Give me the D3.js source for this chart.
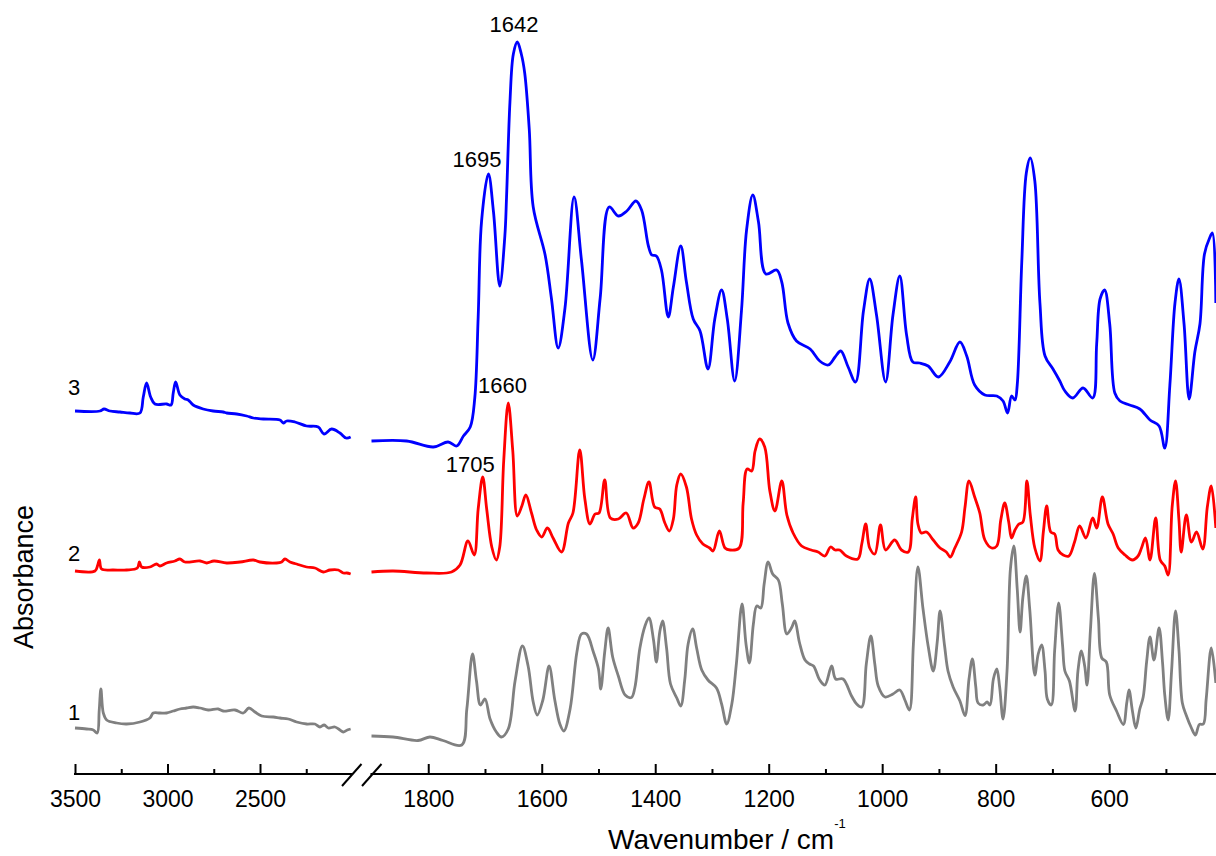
<!DOCTYPE html>
<html><head><meta charset="utf-8">
<script src="https://cdn.jsdelivr.net/npm/d3@7"></script>
<style>
html,body{margin:0;padding:0;background:#fff;}
svg{display:block;}
text{font-family:"Liberation Sans",Arial,Helvetica,sans-serif;fill:#000;}
</style></head><body>
<svg id="chart" width="1216" height="856"></svg>
<script>
// ---------- DATA (wavenumber cm-1, absorbance a.u. incl. stacking offset) ----------
const spec3Left = [[3500,36.3],[3365,36.3],[3343,36.5],[3311,36.3],[3257,36.2],[3203,36.1],[3149,36.1],[3131,37.7],[3113,39.1],[3091,37.7],[3068,37.0],[3005,37.0],[2981,36.9],[2969,38.1],[2956,39.2],[2933,37.9],[2906,37.5],[2888,37.4],[2861,36.9],[2807,36.5],[2753,36.3],[2699,36.2],[2680,36.1],[2626,36.0],[2572,35.8],[2536,35.6],[2482,35.5],[2392,35.4],[2374,35.1],[2356,35.3],[2311,35.2],[2248,34.8],[2185,34.7],[2154,34.0],[2113,34.5],[2068,34.1],[2035,33.6],[2010,33.7]];
const spec3Right = [[1900,33.3],[1838,33.3],[1791,32.7],[1765,33.2],[1750,32.8],[1738,33.8],[1726,34.7],[1718,37.6],[1712,45.7],[1706,55.3],[1694,60.0],[1685,56.2],[1674,48.8],[1665,53.8],[1662,57.7],[1656,67.2],[1650,72.0],[1643,73.2],[1636,72.0],[1630,70.1],[1622,64.5],[1615,56.7],[1594,51.9],[1583,47.6],[1571,42.6],[1559,46.6],[1543,57.7],[1530,51.4],[1510,41.4],[1497,47.6],[1481,56.7],[1465,55.8],[1450,56.3],[1434,57.3],[1424,56.4],[1412,52.8],[1406,51.9],[1398,51.8],[1389,50.4],[1377,45.7],[1368,48.7],[1355,52.8],[1345,49.2],[1333,45.5],[1321,44.3],[1307,40.5],[1295,45.5],[1283,48.4],[1273,45.5],[1260,39.3],[1248,46.3],[1239,54.4],[1228,57.9],[1218,55.2],[1205,50.0],[1186,50.4],[1177,49.2],[1166,45.1],[1151,43.3],[1127,42.5],[1110,41.3],[1095,40.9],[1083,41.7],[1073,42.3],[1060,40.7],[1047,39.2],[1033,46.3],[1022,49.5],[1010,45.9],[994,39.2],[981,45.9],[969,49.8],[957,43.9],[946,41.2],[934,41.1],[919,40.8],[901,39.7],[881,41.2],[863,43.2],[851,41.8],[837,38.9],[819,37.9],[798,37.8],[787,37.3],[779,36.1],[772,37.8],[766,37.4],[762,38.9],[754,51.2],[746,60.1],[739,61.6],[731,59.3],[722,47.1],[713,41.8],[699,40.5],[687,39.3],[678,38.3],[664,37.6],[646,38.6],[629,37.6],[622,43.0],[616,47.5],[608,48.4],[599,45.0],[590,38.1],[581,37.3],[564,36.9],[546,36.5],[528,35.4],[512,34.8],[502,32.6],[493,38.9],[484,47.1],[477,49.5],[468,45.0],[459,37.5],[449,42.2],[440,45.0],[432,52.0],[423,53.6],[418,54.1],[412,47.1]];

const spec2Left = [[3500,20.3],[3392,20.3],[3377,20.9],[3368,21.4],[3356,20.5],[3293,20.4],[3221,20.4],[3163,20.6],[3152,21.2],[3140,20.7],[3095,20.7],[3059,21.0],[3041,20.8],[3005,21.1],[2960,21.3],[2933,21.5],[2906,21.2],[2824,21.3],[2788,21.1],[2749,21.3],[2680,21.1],[2608,21.2],[2536,21.4],[2500,21.2],[2410,21.1],[2383,21.2],[2365,21.5],[2338,21.2],[2302,21.0],[2248,20.7],[2203,20.6],[2158,20.2],[2122,20.4],[2077,20.4],[2050,20.1],[2031,20.1],[2010,20.0]];
const spec2Right = [[1900,20.2],[1862,20.3],[1803,20.1],[1759,20.2],[1744,20.9],[1730,23.3],[1719,21.9],[1712,26.5],[1704,29.7],[1697,26.5],[1688,22.7],[1680,21.4],[1674,22.7],[1667,31.3],[1659,37.1],[1651,32.3],[1643,25.8],[1635,26.8],[1628,27.9],[1618,26.1],[1609,24.4],[1600,23.7],[1590,24.6],[1580,23.6],[1565,22.2],[1553,25.1],[1545,26.1],[1533,32.4],[1524,27.5],[1515,25.0],[1506,26.0],[1499,26.1],[1489,29.4],[1479,25.6],[1465,25.5],[1451,26.1],[1439,24.6],[1430,25.1],[1420,27.5],[1411,29.2],[1401,26.7],[1392,26.5],[1383,25.1],[1375,24.3],[1368,25.5],[1362,28.9],[1355,30.0],[1345,28.7],[1336,25.5],[1327,23.9],[1316,23.0],[1304,22.6],[1298,22.3],[1287,24.3],[1277,22.6],[1268,22.4],[1252,22.6],[1245,27.1],[1238,30.5],[1230,30.3],[1224,32.3],[1216,33.5],[1207,32.7],[1198,28.3],[1189,26.3],[1177,29.3],[1168,25.9],[1157,24.1],[1142,22.8],[1125,22.4],[1113,22.2],[1101,21.8],[1091,22.7],[1083,22.4],[1075,22.4],[1063,21.8],[1043,21.5],[1036,23.0],[1029,25.0],[1022,22.6],[1013,22.0],[1003,24.9],[994,22.4],[978,23.4],[966,22.4],[954,22.2],[947,25.5],[941,27.7],[937,25.0],[931,24.1],[922,24.2],[910,23.4],[898,22.6],[887,22.2],[880,21.7],[872,22.6],[860,24.2],[854,26.7],[847,29.3],[837,27.7],[828,26.1],[819,23.4],[807,22.6],[798,22.8],[791,25.4],[784,27.1],[777,25.2],[772,23.6],[766,24.4],[759,25.0],[752,25.2],[745,29.3],[739,25.9],[731,22.6],[722,21.3],[716,24.2],[710,26.8],[703,24.2],[696,24.0],[690,22.4],[681,21.9],[671,21.8],[661,23.2],[652,24.8],[641,23.6],[629,25.6],[622,24.6],[612,27.7],[602,25.0],[593,24.0],[584,22.6],[572,21.9],[559,21.4],[549,21.8],[543,22.6],[536,23.6],[528,21.4],[518,25.6],[510,21.4],[502,20.8],[496,19.9],[489,26.7],[483,29.3],[477,25.4],[473,22.2],[464,25.9],[455,23.2],[446,24.2],[435,22.5],[427,26.7],[420,28.8],[412,24.6]];

const spec1Left = [[3500,4.6],[3437,4.5],[3401,4.4],[3380,4.1],[3369,6.4],[3360,8.5],[3347,6.1],[3329,5.4],[3275,5.1],[3221,5.0],[3149,5.2],[3095,5.6],[3077,6.1],[3041,6.1],[3005,6.1],[2969,6.3],[2933,6.5],[2897,6.6],[2861,6.7],[2824,6.6],[2780,6.4],[2726,6.5],[2699,6.3],[2635,6.4],[2590,6.1],[2560,6.6],[2527,6.2],[2491,5.8],[2428,5.7],[2392,5.6],[2347,5.5],[2302,5.2],[2248,5.0],[2203,5.0],[2176,4.7],[2153,4.9],[2131,4.6],[2095,4.7],[2068,4.4],[2050,4.2],[2028,4.4],[2010,4.5]];
const spec1Right = [[1900,3.8],[1862,3.7],[1818,3.35],[1797,3.7],[1774,3.35],[1741,2.9],[1732,6.5],[1722,12.0],[1715,9.3],[1708,6.9],[1700,7.5],[1691,5.5],[1680,4.2],[1671,3.7],[1659,4.5],[1647,9.3],[1634,12.8],[1624,10.8],[1615,7.2],[1608,5.9],[1598,7.4],[1587,10.8],[1577,7.4],[1568,5.0],[1561,4.3],[1550,6.5],[1538,12.2],[1530,14.0],[1521,14.0],[1509,12.2],[1500,10.5],[1496,8.5],[1489,12.2],[1483,14.6],[1475,11.7],[1465,9.8],[1453,7.9],[1442,7.65],[1436,8.6],[1427,12.6],[1418,14.8],[1411,15.6],[1403,13.4],[1398,11.2],[1392,14.2],[1387,15.3],[1380,12.6],[1373,9.0],[1362,7.6],[1355,6.8],[1348,9.4],[1342,13.0],[1334,14.5],[1327,12.6],[1318,10.4],[1307,9.4],[1292,8.6],[1283,7.0],[1274,5.0],[1265,7.0],[1257,11.0],[1247,17.0],[1240,13.0],[1234,11.1],[1227,15.0],[1221,16.8],[1214,16.6],[1208,19.0],[1201,21.2],[1193,20.0],[1183,19.4],[1176,17.0],[1168,14.0],[1160,14.6],[1154,15.3],[1146,13.2],[1136,11.4],[1128,11.0],[1121,10.8],[1110,9.4],[1101,8.9],[1089,10.8],[1082,9.5],[1069,9.5],[1054,7.8],[1045,7.0],[1036,6.7],[1028,11.0],[1020,13.8],[1013,11.0],[1007,8.8],[995,7.7],[981,8.0],[969,8.4],[960,7.4],[952,6.4],[945,13.0],[937,20.7],[928,16.5],[919,12.8],[910,10.3],[903,13.2],[898,16.3],[890,12.8],[884,10.3],[875,8.7],[863,7.3],[854,5.85],[847,9.5],[841,11.5],[835,8.7],[831,7.1],[822,6.9],[815,7.2],[810,6.9],[804,9.5],[798,10.5],[793,8.7],[787,5.5],[780,10.3],[774,20.5],[768,22.8],[762,18.5],[757,14.2],[752,17.7],[746,19.8],[740,16.5],[731,9.9],[725,12.0],[719,12.9],[713,10.3],[709,7.5],[702,6.9],[696,12.4],[689,17.1],[682,12.8],[678,10.3],[670,9.3],[660,6.3],[655,10.3],[649,12.3],[643,10.75],[639,8.9],[633,14.4],[626,20.05],[619,15.6],[613,11.6],[605,11.2],[599,7.9],[587,6.3],[575,4.95],[569,7.1],[565,8.4],[559,6.3],[553,4.6],[546,6.5],[540,7.7],[534,11.2],[528,13.7],[521,11.4],[512,14.6],[506,11.2],[502,7.9],[496,5.4],[490,10.3],[483,16.3],[477,12.4],[471,7.1],[464,5.85],[455,4.6],[448,3.9],[441,4.95],[434,5.0],[429,7.5],[420,12.6],[412,9.1]];

const seriesNames = ["1","2","3"];
const seriesColors = ["#808080","#ff0000","#0000ff"];
const seriesLabelY = [5.4, 21.3, 37.9];
const leftTicksMajor = [3500,3000,2500];
const leftTicksMinor = [3250,2750,2250];
const rightTicksMajor = [1800,1600,1400,1200,1000,800,600];
const rightTicksMinor = [1700,1500,1300,1100,900,700,500];
const peakLabels = [
  {text:"1642", w:1649, v:74.2},
  {text:"1695", w:1714, v:60.7},
  {text:"1660", w:1669, v:38.1},
  {text:"1705", w:1726, v:30.2}
];

// ---------- SCALES ----------
const svg = d3.select("#chart");
const xLeft = d3.scaleLinear().domain([3500,2000]).range([75,352.5]);
const xRight = d3.scaleLinear().domain([1900,411]).range([371.5,1216.4]);
const y = d3.scaleLinear().domain([0,74]).range([774,34]);

const series = [
  {left:spec1Left, right:spec1Right},
  {left:spec2Left, right:spec2Right},
  {left:spec3Left, right:spec3Right}
];

const mkLine = xs => d3.line().x(d=>xs(d[0])).y(d=>y(d[1])).curve(d3.curveCatmullRom.alpha(0.5));

series.forEach((s,i)=>{
  svg.append("path").attr("d", mkLine(xLeft)(s.left))
    .attr("fill","none").attr("stroke",seriesColors[i]).attr("stroke-width",2.8).attr("stroke-linejoin","round");
  svg.append("path").attr("d", mkLine(xRight)(s.right))
    .attr("fill","none").attr("stroke",seriesColors[i]).attr("stroke-width",2.8).attr("stroke-linejoin","round");
  svg.append("text").attr("x", xLeft(3500)-7).attr("y", y(seriesLabelY[i]))
    .attr("font-size",22).text(seriesNames[i]);
});

peakLabels.forEach(p=>{
  svg.append("text").attr("x", xRight(p.w)).attr("y", y(p.v))
    .attr("text-anchor","middle").attr("font-size",22).text(p.text);
});

// ---------- AXES ----------
const axisY = y(0);
function drawAxis(scale, majors, minors){
  const gMaj = svg.append("g").attr("transform",`translate(0,${axisY})`)
    .call(d3.axisBottom(scale).tickValues(majors).tickSize(-10).tickPadding(16.5).tickFormat(d3.format("d")));
  gMaj.attr("font-size",23).attr("font-family",null);
  gMaj.select(".domain").remove();
  gMaj.selectAll(".tick line").attr("stroke-width",2);
  const gMin = svg.append("g").attr("transform",`translate(0,${axisY})`)
    .call(d3.axisBottom(scale).tickValues(minors).tickSize(-5).tickFormat(""));
  gMin.select(".domain").remove();
  gMin.selectAll(".tick line").attr("stroke-width",2);
  const r = scale.range();
  svg.append("line").attr("x1",r[0]-1).attr("x2",r[1]).attr("y1",axisY).attr("y2",axisY)
    .attr("stroke","#000").attr("stroke-width",2);
}
drawAxis(xLeft, leftTicksMajor, leftTicksMinor);
drawAxis(xRight, rightTicksMajor, rightTicksMinor);

// break marks
[xLeft.range()[1]-0.5, xRight.range()[0]+0.5].forEach(cx=>{
  svg.append("line").attr("x1",cx-10).attr("y1",axisY+12).attr("x2",cx+9.5).attr("y2",axisY-10)
    .attr("stroke","#000").attr("stroke-width",2);
});

// axis titles
const xt = svg.append("text").attr("x",608).attr("y",849).attr("font-size",28);
xt.append("tspan").text("Wavenumber / cm");
xt.append("tspan").attr("dy",-21).attr("font-size",13).text("-1");

svg.append("text").attr("transform","translate(33,577) rotate(-90)")
  .attr("text-anchor","middle").attr("font-size",27).text("Absorbance");
</script>
</body></html>
